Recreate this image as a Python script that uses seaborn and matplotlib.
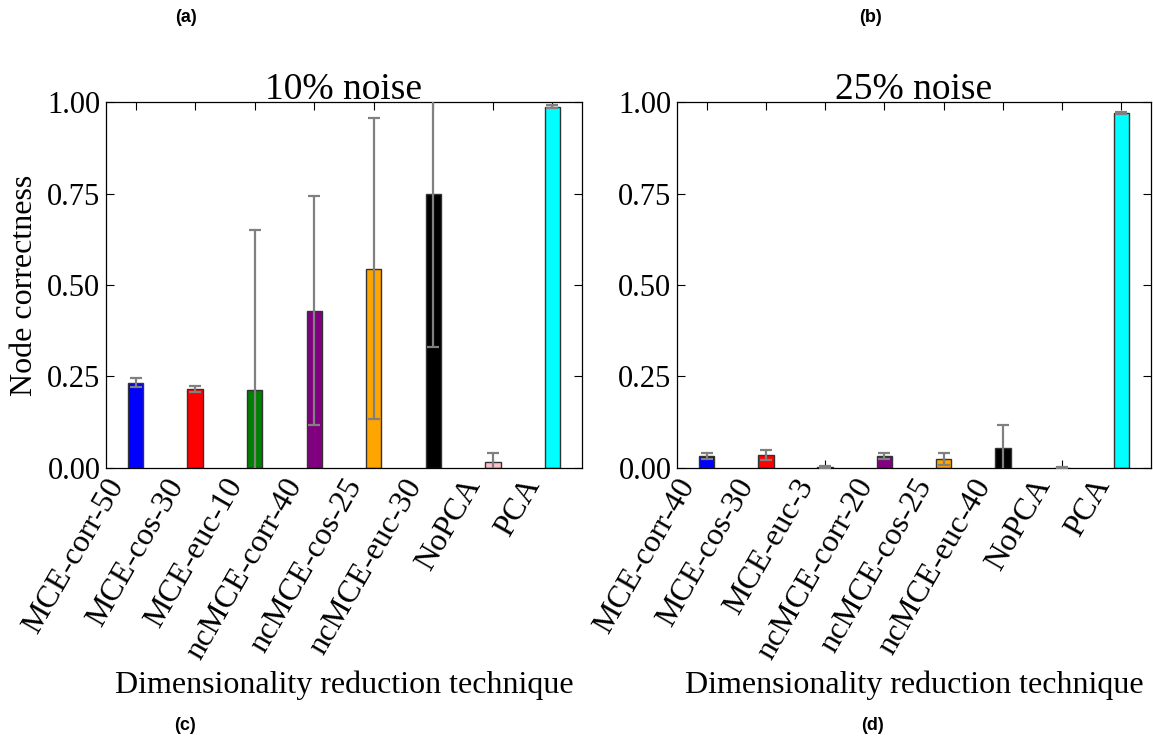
import matplotlib
matplotlib.use("Agg")
import matplotlib.pyplot as plt
import matplotlib.transforms as mtransforms
import seaborn as sns
import numpy as np

# Node correctness per dimensionality reduction technique, two noise levels
labels_10 = ["MCE-corr-50", "MCE-cos-30", "MCE-euc-10", "ncMCE-corr-40",
             "ncMCE-cos-25", "ncMCE-euc-30", "NoPCA", "PCA"]
mean_10 = [0.233, 0.216, 0.213, 0.430, 0.545, 0.749, 0.016, 0.987]
err_10 = [0.013, 0.009, 0.437, 0.312, 0.410, 0.418, 0.025, 0.004]

labels_25 = ["MCE-corr-40", "MCE-cos-30", "MCE-euc-3", "ncMCE-corr-20",
             "ncMCE-cos-25", "ncMCE-euc-40", "NoPCA", "PCA"]
mean_25 = [0.033, 0.035, 0.003, 0.032, 0.024, 0.054, 0.001, 0.970]
err_25 = [0.008, 0.013, 0.003, 0.008, 0.017, 0.063, 0.003, 0.003]

titles = ["10% noise", "25% noise"]
bar_colors = ["blue", "red", "green", "purple", "orange", "black", "pink", "cyan"]
y_ticks = [0.00, 0.25, 0.50, 0.75, 1.00]

sns.set_style("white")
plt.rcParams["font.family"] = ["Liberation Serif", "DejaVu Serif"]
for key in ["text.color", "axes.labelcolor", "xtick.color", "ytick.color",
            "axes.edgecolor"]:
    plt.rcParams[key] = "black"

fig = plt.figure(figsize=(11.53, 7.42), dpi=100)
ax_left = fig.add_axes([0.0919, 0.3693, 0.4129, 0.4932])
ax_right = fig.add_axes([0.5872, 0.3693, 0.4111, 0.4932])

panels = [(ax_left, labels_10, mean_10, err_10, titles[0]),
          (ax_right, labels_25, mean_25, err_25, titles[1])]

# nudge the slanted category labels a little to the left of their ticks
label_shift = mtransforms.ScaledTranslation(-4 / 72, 0, fig.dpi_scale_trans)

for ax, labels, means, errs, title in panels:
    sns.barplot(x=labels, y=means, hue=labels, palette=bar_colors,
                saturation=1, legend=False, width=0.26, errorbar=None,
                edgecolor="#333333", linewidth=1.0, ax=ax)
    ax.errorbar(np.arange(len(labels)), means, yerr=errs, fmt="none",
                ecolor="gray", elinewidth=1.6, capsize=4, capthick=1.6,
                zorder=5)
    ax.set_xlim(-0.5, len(labels) - 0.5)
    ax.set_ylim(0, 1.0)
    ax.set_yticks(y_ticks)
    ax.set_yticklabels([f"{t:.2f}" for t in y_ticks])
    ax.set_xticks(np.arange(len(labels)))
    ax.tick_params(axis="both", which="major", direction="in", length=6,
                   width=0.8, labelsize=22, top=True, right=True,
                   bottom=True, left=True, pad=4)
    ax.set_xticklabels(labels, rotation=60, ha="right", fontsize=23)
    for lab in ax.get_xticklabels():
        lab.set_transform(lab.get_transform() + label_shift)
    for sp in ax.spines.values():
        sp.set_visible(True)
        sp.set_color("black")
        sp.set_linewidth(0.9)
    ax.set_title(title, fontsize=27, pad=2)
    ax.set_xlabel("Dimensionality reduction technique", fontsize=23, labelpad=4)

ax_left.set_ylabel("Node correctness", fontsize=23, labelpad=6)

# Sub-figure letters
for txt, x, y in [("(a)", 186, 18), ("(b)", 870, 18), ("(c)", 185, 725), ("(d)", 873, 725)]:
    fig.text(x / 1153, 1 - y / 742, txt, ha="center", va="center",
             fontsize=13, fontweight="bold", family="Liberation Sans")

fig.savefig("out.png", dpi=100)
